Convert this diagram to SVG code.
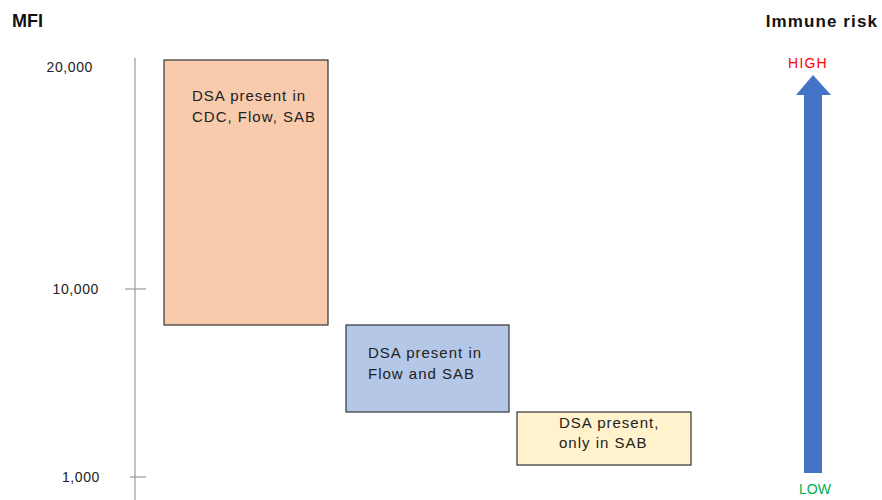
<svg xmlns="http://www.w3.org/2000/svg" width="882" height="500" viewBox="0 0 882 500">
<style>
text{font-family:"Liberation Sans",Arial,sans-serif;fill:#222}
.title{font-size:17px;font-weight:bold;fill:#111}
.tick{font-size:14px;text-anchor:end;letter-spacing:0.6px}
.box{stroke:#333;stroke-width:1.2}
.lbl{font-size:15px;letter-spacing:1px}
.axis{stroke:#999;stroke-width:1.2;fill:none}
</style>
<rect width="882" height="500" fill="#fff"/>
<text class="title" x="12" y="27" style="font-size:18px">MFI</text>
<text class="title" x="878" y="27" text-anchor="end" style="letter-spacing:1.1px">Immune risk</text>
<g id="axis">
<line class="axis" x1="135" y1="58" x2="135" y2="500"/>
<line class="axis" x1="125" y1="289" x2="146" y2="289"/>
<line class="axis" x1="130" y1="477" x2="146" y2="477"/>
<text class="tick" x="93" y="72">20,000</text>
<text class="tick" x="99" y="294">10,000</text>
<text class="tick" x="100" y="482">1,000</text>
</g>
<g id="box-cdc">
<rect class="box" x="164" y="60" width="164" height="265" fill="#F8CBAD"/>
<text class="lbl" x="192" y="101">DSA present in</text>
<text class="lbl" x="192" y="122">CDC, Flow, SAB</text>
</g>
<g id="box-flow">
<rect class="box" x="346" y="325" width="163" height="87" fill="#B4C7E7"/>
<text class="lbl" x="368" y="358">DSA present in</text>
<text class="lbl" x="368" y="379">Flow and SAB</text>
</g>
<g id="box-sab">
<rect class="box" x="517" y="412" width="174" height="53" fill="#FFF2CC"/>
<text class="lbl" x="559" y="428">DSA present,</text>
<text class="lbl" x="559" y="448">only in SAB</text>
</g>
<g id="risk-arrow">
<polygon points="804,473 822,473 822,95 831,95 813,75 796,95 804,95" fill="#4472C4"/>
<text x="808" y="68" font-size="14" text-anchor="middle" style="fill:#FF0000;letter-spacing:1.2px">HIGH</text>
<text x="815" y="494" font-size="14" text-anchor="middle" style="fill:#00B050">LOW</text>
</g>
</svg>
